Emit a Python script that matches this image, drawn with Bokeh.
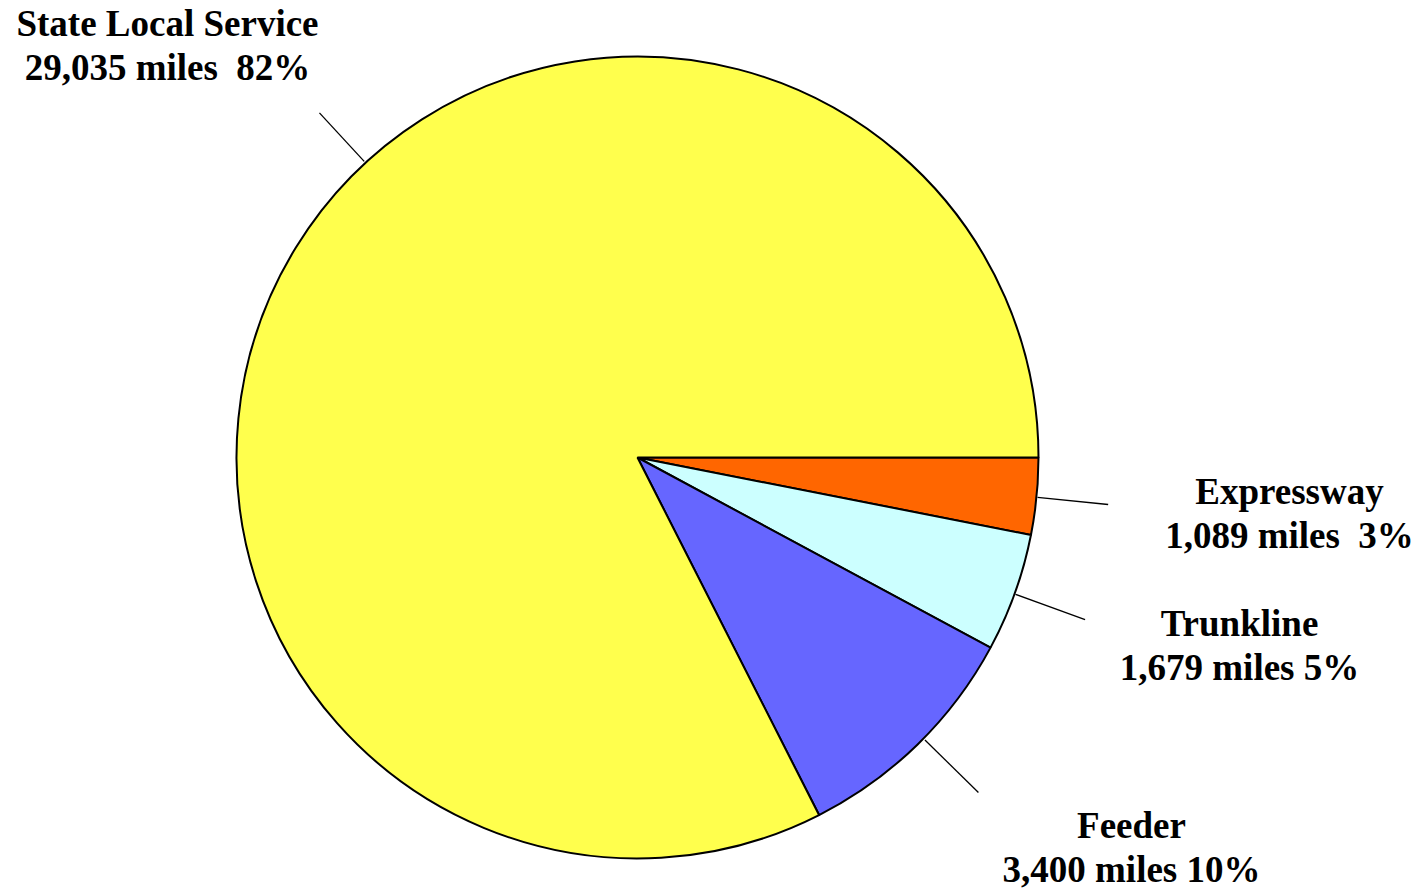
import math
from bokeh.plotting import figure
from bokeh.models import Range1d, ColumnDataSource
from bokeh.core.properties import value
from bokeh.embed import file_html
from bokeh.resources import INLINE

# ---- data ----
categories = ["Expressway", "Trunkline", "Feeder", "State Local Service"]
miles = [1089, 1679, 3400, 29035]
mile_labels = ["1,089 miles\u00a0 3%", "1,679 miles 5%", "3,400 miles 10%", "29,035 miles\u00a0 82%"]
colors = ["#FF6600", "#CCFFFF", "#6666FF", "#FFFF4D"]

# ---- layout (screen pixel space) ----
W, H = 1425, 889
CX, CY, R = 637, 457, 401
leader_deg = [5.7, 19.9, 44.5, 227.3]     # clockwise from east
leader_r = [(402, 473), (402, 476), (403, 478), (403, 469)]
label_xy = [(1289, 491), (1239, 623), (1131, 825), (167, 23)]
LINE_GAP = 44


def sy(y):
    return H - y


p = figure(width=W, height=H, output_backend="svg", toolbar_location=None,
           x_range=Range1d(0, W), y_range=Range1d(0, H),
           min_border=0)
p.axis.visible = False
p.grid.visible = False
p.outline_line_color = None
p.background_fill_color = "white"
p.border_fill_color = "white"

total = sum(miles)
starts, ends = [], []
cum = 0.0
for m in miles:
    a0 = cum / total * 2 * math.pi
    cum += m
    a1 = cum / total * 2 * math.pi
    # clockwise from east -> bokeh counterclockwise angles
    starts.append(-a1)
    ends.append(-a0)

src = ColumnDataSource(dict(x=[CX] * 4, y=[sy(CY)] * 4, start=starts, end=ends,
                            color=colors, cat=categories))
p.wedge(x="x", y="y", radius=R, start_angle="start", end_angle="end",
        fill_color="color", line_color="black", line_width=2, source=src)

# leader lines
x0s, y0s, x1s, y1s = [], [], [], []
for d, (r0, r1) in zip(leader_deg, leader_r):
    a = math.radians(d)
    x0s.append(CX + r0 * math.cos(a)); y0s.append(sy(CY + r0 * math.sin(a)))
    x1s.append(CX + r1 * math.cos(a)); y1s.append(sy(CY + r1 * math.sin(a)))
p.segment(x0=x0s, y0=y0s, x1=x1s, y1=y1s, line_color="black", line_width=1.3)

# labels
tx, ty, tt = [], [], []
for cat, ml, (lx, ly) in zip(categories, mile_labels, label_xy):
    tx += [lx, lx]
    ty += [sy(ly), sy(ly + LINE_GAP)]
    tt += [cat, ml]
p.text(x=tx, y=ty, text=tt, text_font=value("Liberation Serif"),
       text_font_style="bold", text_font_size="37px", text_color="black",
       text_align="center", text_baseline="middle")

open("out.html", "w").write(file_html(p, INLINE))
